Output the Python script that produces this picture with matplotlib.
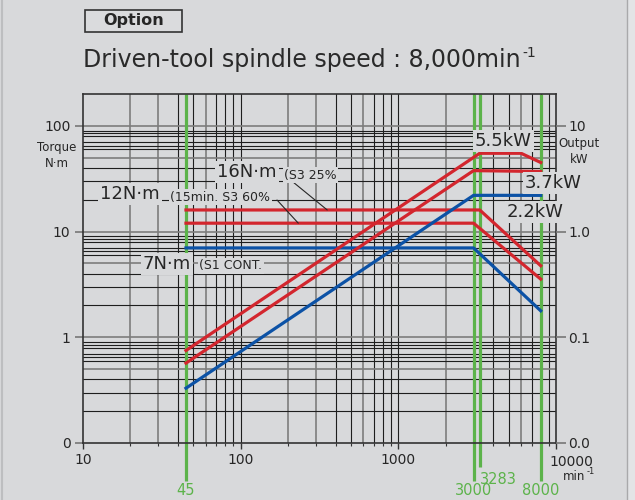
import numpy as np
import matplotlib
matplotlib.use('Agg')
import matplotlib.pyplot as plt
from matplotlib.transforms import blended_transform_factory
from matplotlib.patches import Rectangle
from matplotlib.lines import Line2D

# chart data (speed in min-1, torque in N·m, output in kW)
speed_s1 = [45, 3000, 8000]
torque_s1 = [7, 7, 1.78]
power_s1 = [0.033, 2.2, 2.2]

speed_s3_60 = [45, 3000, 8000]
torque_s3_60 = [12, 12, 3.55]
power_s3_60 = [0.057, 3.77, 3.7]

speed_s3_25_t = [45, 3283, 8000]
torque_s3_25 = [16, 16, 4.75]
speed_s3_25_p = [45, 3283, 6000, 8000]
power_s3_25 = [0.075, 5.5, 5.5, 4.5]

marker_speeds = [45, 3000, 3283, 8000]
marker_labels = ['45', '3000', '3283', '8000']

torque_ticks = [0.1, 1, 10, 100]
torque_labels = ['0', '1', '10', '100']
output_ticks = [0.01, 0.1, 1, 10]
output_labels = ['0.0', '0.1', '1.0', '10']
speed_ticks = [10, 100, 1000, 10000]
speed_labels = ['10', '100', '1000', '']

BG = '#d8d9db'
RED = '#d3262e'
BLUE = '#0c52a6'
GREEN = '#5cb34a'
INK = '#262626'
W, H = 635, 500

def fx(x):
    return x / W

def fy(y):
    return 1 - y / H

plt.rcParams['font.family'] = ['DejaVu Sans']

fig = plt.figure(figsize=(6.35, 5.0), dpi=100, facecolor=BG)

ax = fig.add_axes([fx(83), fy(443), (556 - 83) / W, (443 - 94) / H])
ax.set_facecolor(BG)
ax.set_xscale('log')
ax.set_yscale('log')
ax.set_xlim(10, 10000)
ax.set_ylim(0.1, 200)

# log grid, drawn by hand: gray for some lines, black for the rest
for dec in [10, 100, 1000]:
    for m in range(2, 10):
        c, lw = ('#7d7d7d', 1.2) if m in (2, 3, 6) else ('#1e1e1e', 0.8)
        ax.axvline(dec * m, color=c, lw=lw, zorder=1)
    if dec > 10:
        ax.axvline(dec, color='#1e1e1e', lw=0.8, zorder=1)
for dec in [0.1, 1, 10]:
    for m in [2, 3, 4, 6, 6.5, 7, 8, 8.5, 9]:
        ax.axhline(dec * m, color='#1e1e1e', lw=0.8, zorder=1)
    ax.axhline(dec * 5, color='#7d7d7d', lw=1.2, zorder=1)
    ax.axhline(dec * 10, color='#7d7d7d', lw=1.2, zorder=1)

# green speed markers running below the frame
tr = blended_transform_factory(ax.transData, ax.transAxes)
for s in marker_speeds:
    bottom = -0.069 if s == 3283 else -0.11
    ax.plot([s, s], [1, bottom], color=GREEN, lw=2.3, transform=tr,
            clip_on=False, zorder=2, solid_capstyle='butt')

# torque curves
ax.plot(speed_s1, torque_s1, color=BLUE, lw=2.3, zorder=3)
ax.plot(speed_s3_60, torque_s3_60, color=RED, lw=2.3, zorder=3)
ax.plot(speed_s3_25_t, torque_s3_25, color=RED, lw=2.3, zorder=3)

ax.set_yticks(torque_ticks)
ax.set_yticklabels(torque_labels)
ax.yaxis.set_minor_locator(matplotlib.ticker.NullLocator())
ax.set_xticks(speed_ticks)
ax.set_xticklabels(speed_labels)
ax.tick_params(axis='y', which='major', direction='out', length=6, width=1.2,
               color='#777777', pad=3, labelsize=10, labelcolor=INK)
ax.tick_params(axis='x', which='major', direction='out', length=4.5, width=1,
               color='#333333', pad=3, labelsize=10, labelcolor=INK)
ax.tick_params(axis='x', which='minor', direction='out', length=2.2, width=0.8,
               color='#333333')
for sp in ax.spines.values():
    sp.set_color('#333333')
    sp.set_linewidth(1.2)
    sp.set_zorder(4)

# output axis on the right
ax2 = ax.twinx()
ax2.set_yscale('log')
ax2.set_ylim(0.01, 20)
ax2.patch.set_visible(False)
ax2.plot(speed_s1, power_s1, color=BLUE, lw=2.3, zorder=3)
ax2.plot(speed_s3_60, power_s3_60, color=RED, lw=2.3, zorder=3)
ax2.plot(speed_s3_25_p, power_s3_25, color=RED, lw=2.3, zorder=3)
ax2.set_yticks(output_ticks)
ax2.set_yticklabels(output_labels)
ax2.yaxis.set_minor_locator(matplotlib.ticker.NullLocator())
ax2.tick_params(axis='y', which='major', direction='out', length=7, width=1.2,
                color='#777777', pad=2, labelsize=10, labelcolor=INK)
for sp in ax2.spines.values():
    sp.set_visible(False)

# leader lines from the labels to the torque lines
ax2.annotate('', xy=(354, 1.6), xycoords='data',
             xytext=(fx(293), fy(182)), textcoords='figure fraction',
             arrowprops=dict(arrowstyle='-', lw=0.8, color=INK,
                             shrinkA=0, shrinkB=0))
ax2.annotate('', xy=(232, 1.2), xycoords='data',
             xytext=(fx(277), fy(200)), textcoords='figure fraction',
             arrowprops=dict(arrowstyle='-', lw=0.8, color=INK,
                             shrinkA=0, shrinkB=0))

box = dict(boxstyle='square,pad=0.12', fc=BG, ec='none')

def label(x, y, s, size, ha='left'):
    fig.text(fx(x), fy(y), s, fontsize=size, ha=ha, va='center',
             color=INK, bbox=box, zorder=5)

label(217, 172, '16N·m', 13)
label(284, 175, '(S3 25%', 9)
label(100, 194, '12N·m', 13)
label(170, 197, '(15min. S3 60%', 9)
label(143, 264, '7N·m', 13)
label(199, 266, '(S1 CONT.', 9)
label(475, 141, '5.5kW', 13)
label(525, 183, '3.7kW', 13)
label(507, 212, '2.2kW', 13)

# axis titles
fig.text(fx(57), fy(147), 'Torque', fontsize=8.5, ha='center', va='center', color=INK)
fig.text(fx(57), fy(163), 'N·m', fontsize=8.5, ha='center', va='center', color=INK)
fig.text(fx(579), fy(143), 'Output', fontsize=8.5, ha='center', va='center', color=INK)
fig.text(fx(579), fy(159), 'kW', fontsize=8.5, ha='center', va='center', color=INK)
fig.text(fx(571), fy(462), '10000', fontsize=10, ha='center', va='center', color=INK)
fig.text(fx(563), fy(477), 'min', fontsize=8.5, ha='left', va='center', color=INK)
fig.text(fx(587), fy(472), '-1', fontsize=6, ha='left', va='center', color=INK)

# green speed labels
fig.text(fx(498), fy(479), marker_labels[2], fontsize=10.5, ha='center', va='center', color=GREEN)
trb = blended_transform_factory(ax.transData, fig.transFigure)
for s, lab in zip(marker_speeds, marker_labels):
    if s == 3283:
        continue
    ax.text(s, 0.004, lab, transform=trb, fontsize=10.5, ha='center', va='bottom',
            color=GREEN, clip_on=False)

# header
fig.patches.append(Rectangle((fx(85), fy(32)), (182 - 85) / W, 22 / H,
                             transform=fig.transFigure, fc='#dadbdd',
                             ec='#333333', lw=1.2))
fig.text(fx(133.5), fy(21), 'Option', fontsize=11.5, fontweight='bold',
         ha='center', va='center', color=INK)
title = fig.text(fx(83), fy(60), 'Driven-tool spindle speed : 8,000min',
                 fontsize=17, ha='left', va='center', color='#2a2a2a')
fig.canvas.draw()
tb = title.get_window_extent()
fig.text(tb.x1 / W + 0.003, fy(53), '-1', fontsize=10, ha='left', va='center',
         color='#2a2a2a')

# panel edges
fig.patches.append(Rectangle((fx(627), 0), 8 / W, 1, transform=fig.transFigure,
                             fc='#e3e4e6', ec='none'))
fig.lines.append(Line2D([fx(627), fx(627)], [0, 1], transform=fig.transFigure,
                        color='#a9a9ab', lw=1))
fig.lines.append(Line2D([fx(2), fx(2)], [0, 1], transform=fig.transFigure,
                        color='#bdbec0', lw=1.5))

fig.savefig('out.png', dpi=100, facecolor=BG)
